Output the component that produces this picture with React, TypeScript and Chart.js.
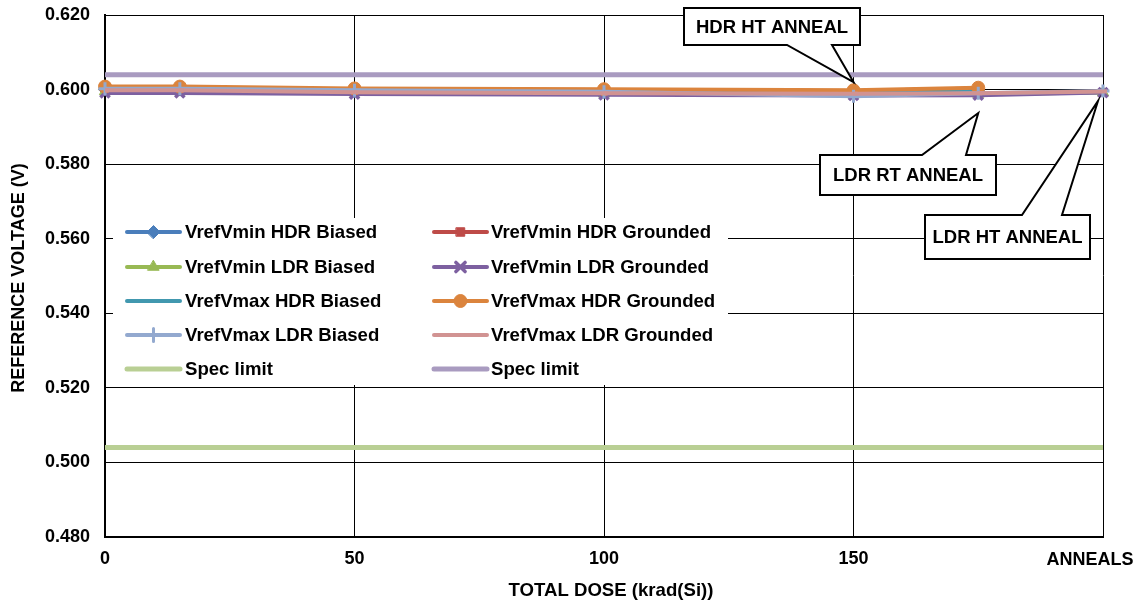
import React, { useEffect, useRef } from 'react';
import { Chart, registerables } from 'chart.js';
import { drawPoint } from 'chart.js/helpers';

Chart.register(...registerables);

// ---------- data ----------
const hdrDose = [0, 15, 50, 100, 150, 175];
const ldrDose = [0, 15, 50, 100, 150, 175, 200];
const specDose = [0, 200];

const vminHdrBiased = [0.6000, 0.6000, 0.5995, 0.5993, 0.5990, 0.5996];
const vminHdrGrounded = [0.6005, 0.6005, 0.6001, 0.5999, 0.5996, 0.6003];
const vminLdrBiased = [0.5995, 0.5995, 0.5992, 0.5989, 0.5986, 0.5988, 0.5992];
const vminLdrGrounded = [0.5991, 0.5991, 0.5988, 0.5986, 0.5984, 0.5985, 0.5992];
const vmaxHdrBiased = [0.6002, 0.6002, 0.5997, 0.5995, 0.5992, 0.5998];
const vmaxHdrGrounded = [0.6008, 0.6008, 0.6003, 0.6001, 0.5998, 0.6005];
const vmaxLdrBiased = [0.6002, 0.6002, 0.5998, 0.5994, 0.5982, 0.5990, 0.5996];
const vmaxLdrGrounded = [0.5998, 0.5998, 0.5993, 0.5990, 0.5989, 0.5990, 0.5995];
const specLow = [0.504, 0.504];
const specHigh = [0.604, 0.604];

const xTickValues = [0, 50, 100, 150, 200];
const xTickLabels = ['0', '50', '100', '150', 'ANNEALS'];
const xTitle = 'TOTAL DOSE (krad(Si))';
const yTitle = 'REFERENCE VOLTAGE (V)';

const seriesNames = [
  'VrefVmin HDR Biased',
  'VrefVmin HDR Grounded',
  'VrefVmin LDR Biased',
  'VrefVmin LDR Grounded',
  'VrefVmax HDR Biased',
  'VrefVmax HDR Grounded',
  'VrefVmax LDR Biased',
  'VrefVmax LDR Grounded',
  'Spec limit',
  'Spec limit',
];

const annotationTexts = ['HDR HT ANNEAL', 'LDR RT ANNEAL', 'LDR HT ANNEAL'];
const annotationDoses = [150, 175, 200];

const FONT = "'Liberation Sans', Arial, Helvetica, sans-serif";

type Series = {
  name: string;
  xs: number[];
  ys: number[];
  color: string;
  pointStyle: any;
  radius: number;
  lineWidth: number;
  pointBorder: number;
};

const series: Series[] = [
  { name: seriesNames[0], xs: hdrDose, ys: vminHdrBiased, color: '#4A7EBB', pointStyle: 'rectRot', radius: 6.5, lineWidth: 4, pointBorder: 1 },
  { name: seriesNames[1], xs: hdrDose, ys: vminHdrGrounded, color: '#BE4B48', pointStyle: 'rect', radius: 6, lineWidth: 4, pointBorder: 1 },
  { name: seriesNames[2], xs: ldrDose, ys: vminLdrBiased, color: '#98B954', pointStyle: 'triangle', radius: 6.5, lineWidth: 4, pointBorder: 1 },
  { name: seriesNames[3], xs: ldrDose, ys: vminLdrGrounded, color: '#7D60A0', pointStyle: 'crossRot', radius: 6.5, lineWidth: 4, pointBorder: 3.5 },
  { name: seriesNames[4], xs: hdrDose, ys: vmaxHdrBiased, color: '#4198AF', pointStyle: false, radius: 0, lineWidth: 4, pointBorder: 0 },
  { name: seriesNames[5], xs: hdrDose, ys: vmaxHdrGrounded, color: '#DB843D', pointStyle: 'circle', radius: 6.5, lineWidth: 4, pointBorder: 1 },
  { name: seriesNames[6], xs: ldrDose, ys: vmaxLdrBiased, color: '#93A9CF', pointStyle: 'cross', radius: 6.5, lineWidth: 4, pointBorder: 3 },
  { name: seriesNames[7], xs: ldrDose, ys: vmaxLdrGrounded, color: '#D19392', pointStyle: 'dash', radius: 4, lineWidth: 4, pointBorder: 4 },
  { name: seriesNames[8], xs: specDose, ys: specLow, color: '#B9CF94', pointStyle: false, radius: 0, lineWidth: 5, pointBorder: 0 },
  { name: seriesNames[9], xs: specDose, ys: specHigh, color: '#A99BC0', pointStyle: false, radius: 0, lineWidth: 5, pointBorder: 0 },
];

// ---------- plugins ----------
function drawCallout(
  ctx: CanvasRenderingContext2D,
  x: number, y: number, w: number, h: number,
  b1: number, b2: number, tx: number, ty: number,
  side: 'top' | 'bottom', text: string
) {
  ctx.save();
  ctx.beginPath();
  if (side === 'top') {
    ctx.moveTo(x, y);
    ctx.lineTo(b1, y);
    ctx.lineTo(tx, ty);
    ctx.lineTo(b2, y);
    ctx.lineTo(x + w, y);
    ctx.lineTo(x + w, y + h);
    ctx.lineTo(x, y + h);
  } else {
    ctx.moveTo(x, y);
    ctx.lineTo(x + w, y);
    ctx.lineTo(x + w, y + h);
    ctx.lineTo(b2, y + h);
    ctx.lineTo(tx, ty);
    ctx.lineTo(b1, y + h);
    ctx.lineTo(x, y + h);
  }
  ctx.closePath();
  ctx.fillStyle = '#ffffff';
  ctx.fill();
  ctx.lineWidth = 2;
  ctx.strokeStyle = '#000000';
  ctx.lineJoin = 'miter';
  ctx.stroke();
  ctx.fillStyle = '#000000';
  ctx.font = `bold 18.5px ${FONT}`;
  ctx.textAlign = 'center';
  ctx.textBaseline = 'middle';
  ctx.fillText(text, x + w / 2, y + h / 2 + 1);
  ctx.restore();
}

const overlayPlugin = {
  id: 'overlay',
  afterDraw(chart: any) {
    const ctx: CanvasRenderingContext2D = chart.ctx;
    const xs = chart.scales.x;
    const area = chart.chartArea;

    // legend
    ctx.save();
    ctx.fillStyle = '#ffffff';
    ctx.fillRect(113, 218, 615, 167);
    const rows = [232, 267, 301, 335, 369];
    const cols = [
      { lx: 127, tx: 185 },
      { lx: 434, tx: 491 },
    ];
    series.forEach((s, i) => {
      const r = rows[Math.floor(i / 2)];
      const c = cols[i % 2];
      ctx.strokeStyle = s.color;
      ctx.lineWidth = s.lineWidth;
      ctx.lineCap = 'round';
      ctx.beginPath();
      ctx.moveTo(c.lx, r);
      ctx.lineTo(c.lx + 53, r);
      ctx.stroke();
      if (s.pointStyle) {
        ctx.fillStyle = s.color;
        ctx.strokeStyle = s.color;
        ctx.lineWidth = s.pointBorder;
        drawPoint(ctx, { pointStyle: s.pointStyle, radius: s.radius, rotation: 0, borderWidth: s.pointBorder } as any, c.lx + 26.5, r);
      }
      ctx.fillStyle = '#000000';
      ctx.font = `bold 18.6px ${FONT}`;
      ctx.textAlign = 'left';
      ctx.textBaseline = 'middle';
      ctx.fillText(s.name, c.tx, r + 1);
    });

    // ANNEALS tick label
    ctx.fillStyle = '#000000';
    ctx.font = `bold 18px ${FONT}`;
    ctx.textAlign = 'center';
    ctx.textBaseline = 'middle';
    ctx.fillText(xTickLabels[4], xs.getPixelForValue(xTickValues[4]) - 13, 560);

    // x axis title
    ctx.font = `bold 18.6px ${FONT}`;
    ctx.fillText(xTitle, (area.left + area.right) / 2 + 7, 591);

    // y axis title
    ctx.translate(19, (area.top + area.bottom) / 2 + 2);
    ctx.rotate(-Math.PI / 2);
    ctx.font = `bold 18px ${FONT}`;
    ctx.fillText(yTitle, 0, 0);
    ctx.restore();

    // callouts
    drawCallout(ctx, 684, 8, 176, 37, 787, 832, xs.getPixelForValue(annotationDoses[0]), 82, 'bottom', annotationTexts[0]);
    drawCallout(ctx, 820, 155, 176, 40, 922, 966, xs.getPixelForValue(annotationDoses[1]), 113, 'top', annotationTexts[1]);
    drawCallout(ctx, 925, 215, 165, 44, 1022, 1062, xs.getPixelForValue(annotationDoses[2]) - 5, 101, 'top', annotationTexts[2]);
  },
};

export default function App() {
  const canvasRef = useRef<HTMLCanvasElement | null>(null);

  useEffect(() => {
    document.body.style.margin = '0';
    const canvas = canvasRef.current;
    if (!canvas) return;

    const datasets = series.map((s, i) => ({
      label: s.name,
      data: s.xs.map((x, j) => ({ x, y: s.ys[j] })),
      borderColor: s.color,
      backgroundColor: s.color,
      borderWidth: s.lineWidth,
      pointStyle: s.pointStyle,
      pointRadius: s.radius,
      pointBorderWidth: s.pointBorder,
      pointBorderColor: s.color,
      pointBackgroundColor: s.color,
      tension: 0,
      clip: false as any,
      order: -i,
    }));

    const chart = new Chart(canvas, {
      type: 'line',
      data: { datasets },
      plugins: [overlayPlugin],
      options: {
        responsive: false,
        animation: false,
        devicePixelRatio: 1,
        layout: { padding: { left: 0, top: 15, right: 35, bottom: 0 } },
        plugins: {
          legend: { display: false },
          tooltip: { enabled: false },
        },
        scales: {
          x: {
            type: 'linear',
            min: 0,
            max: 200,
            afterBuildTicks: (s: any) => {
              s.ticks = xTickValues.map((v) => ({ value: v }));
            },
            afterFit: (s: any) => {
              s.height = 65;
              s.paddingRight = 0;
              s.paddingLeft = 0;
            },
            ticks: {
              autoSkip: false,
              maxRotation: 0,
              padding: 11,
              color: '#000000',
              font: { family: FONT, size: 18, weight: 'bold' },
              callback: (v: any) => {
                const idx = xTickValues.indexOf(Number(v));
                if (idx < 0 || idx === xTickValues.length - 1) return '';
                return xTickLabels[idx];
              },
            },
            grid: { color: '#000000', lineWidth: 1, drawTicks: false },
            border: { color: '#000000', width: 2 },
            title: { display: false },
          },
          y: {
            type: 'linear',
            min: 0.48,
            max: 0.62,
            afterFit: (s: any) => {
              s.width = 105;
              s.paddingTop = 0;
              s.paddingBottom = 0;
            },
            ticks: {
              stepSize: 0.02,
              padding: 15,
              color: '#000000',
              font: { family: FONT, size: 18, weight: 'bold' },
              callback: (v: any) => Number(v).toFixed(3),
            },
            grid: { color: '#000000', lineWidth: 1, drawTicks: false },
            border: { color: '#000000', width: 2 },
            title: { display: false },
          },
        },
      } as any,
    });

    return () => chart.destroy();
  }, []);

  return (
    <div style={{ position: 'absolute', left: 0, top: 0, width: 1138, height: 602, background: '#ffffff' }}>
      <canvas ref={canvasRef} width={1138} height={602} style={{ width: 1138, height: 602, display: 'block' }} />
    </div>
  );
}
